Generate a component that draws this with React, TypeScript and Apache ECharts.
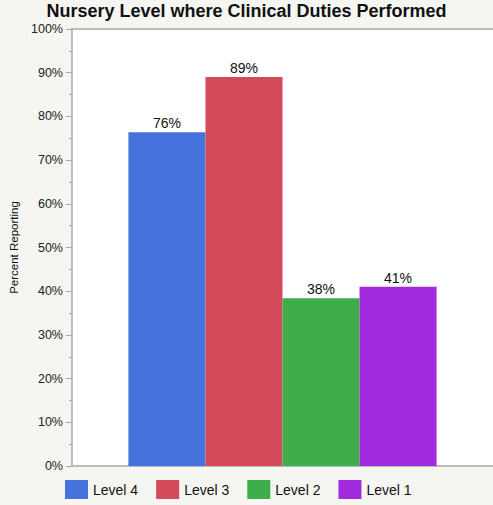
import React, { useEffect, useRef } from "react";
import * as echarts from "echarts";

const seriesNames = ["Level 4", "Level 3", "Level 2", "Level 1"];
const seriesValues = [76.4, 89.0, 38.4, 41.0];
const seriesLabels = ["76%", "89%", "38%", "41%"];
const seriesColors = ["#4572DD", "#D34B5A", "#3DAE4A", "#A12ADC"];
const categories = [""];

export default function App() {
  const ref = useRef<HTMLDivElement>(null);
  useEffect(() => {
    const chart = echarts.init(ref.current!, null, { renderer: "svg" });
    const font = "'Liberation Sans', Arial, Helvetica, sans-serif";
    const axisGrey = "#A8A8A8";
    chart.setOption({
      animation: false,
      backgroundColor: "#F5F5F1",
      textStyle: { fontFamily: font },
      title: {
        text: "Nursery Level where Clinical Duties Performed",
        left: "center",
        top: 1,
        padding: 0,
        textStyle: { fontSize: 18, fontWeight: "bold", color: "#111", fontFamily: font, lineHeight: 20 },
      },
      grid: {
        left: 70,
        right: 0,
        top: 29,
        bottom: 39,
        show: true,
        backgroundColor: "#FFFFFF",
        borderWidth: 0,
      },
      legend: {
        bottom: 1,
        left: 60,
        itemWidth: 23,
        itemHeight: 19,
        itemGap: 18,
        icon: "rect",
        textStyle: { fontSize: 14, color: "#111", fontFamily: font },
        data: seriesNames,
      },
      xAxis: [
        {
          type: "category",
          data: categories,
          axisLine: { show: true, lineStyle: { color: axisGrey, width: 1.5 } },
          axisTick: { show: false },
          axisLabel: { show: false },
        },
        {
          type: "category",
          position: "top",
          data: categories,
          axisLine: { show: true, lineStyle: { color: axisGrey, width: 1.5 } },
          axisTick: { show: false },
          axisLabel: { show: false },
        },
      ],
      yAxis: {
        type: "value",
        min: 0,
        max: 100,
        interval: 10,
        name: "Percent Reporting",
        nameLocation: "middle",
        nameGap: 52,
        nameTextStyle: { fontSize: 11.5, color: "#111", fontFamily: font },
        axisLine: { show: true, lineStyle: { color: axisGrey, width: 1.5 } },
        axisTick: { show: true, length: 6, lineStyle: { color: axisGrey } },
        minorTick: { show: true, splitNumber: 2, length: 3, lineStyle: { color: axisGrey } },
        splitLine: { show: false },
        axisLabel: {
          formatter: (v: number) => v + "%",
          fontSize: 12.5,
          color: "#222",
          margin: 9,
          fontFamily: font,
        },
      },
      series: seriesNames.map((name, i) => ({
        name,
        type: "bar",
        xAxisIndex: 0,
        data: [seriesValues[i]],
        itemStyle: { color: seriesColors[i] },
        barGap: "0%",
        barCategoryGap: "26.8%",
        label: {
          show: true,
          position: "top",
          distance: 2,
          formatter: () => seriesLabels[i],
          fontSize: 14,
          color: "#111",
          fontFamily: font,
        },
      })),
    });
    return () => chart.dispose();
  }, []);
  return <div ref={ref} style={{ width: 493, height: 505, position: "fixed", left: 0, top: 0 }} />;
}
